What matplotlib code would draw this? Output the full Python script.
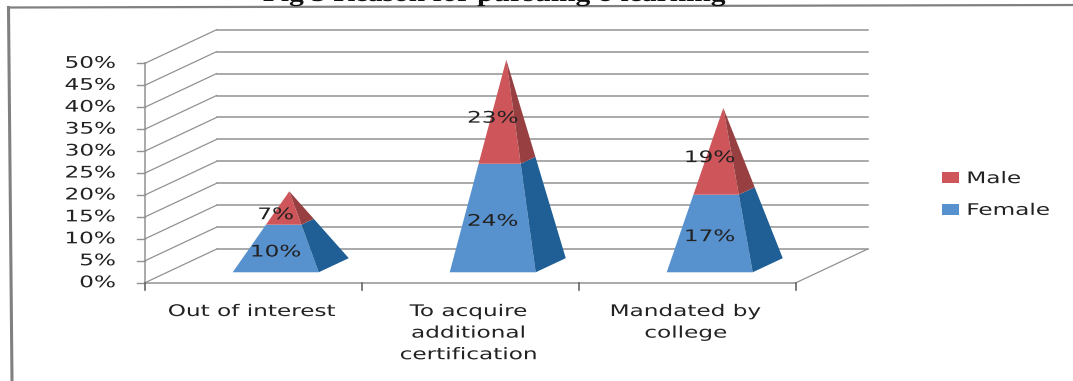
import matplotlib
matplotlib.use("Agg")
import matplotlib.pyplot as plt
from matplotlib.patches import Patch, Polygon
from matplotlib.patheffects import AbstractPathEffect
from matplotlib.transforms import Affine2D

# Survey results, percent of respondents
categories = ["Out of interest", "To acquire\nadditional\ncertification", "Mandated by\ncollege"]
female = [10, 24, 17]
male = [7, 23, 19]
y_ticks = list(range(0, 55, 5))
title = "Fig 5 Reason for pursuing e-learning"

W, H = 1073, 381
X0, UNIT_X = 145.0, 217.0
Y0, UNIT_Y = 282.7, 4.388
DX, DY = 71.6 / UNIT_X, 33.6 / UNIT_Y   # depth vector of the 3-D box
HALF_W = 43.0 / UNIT_X
D_FRONT, D_BACK, D_APEX = 0.31, 0.73, 0.50

FEMALE_FRONT, FEMALE_SIDE = "#5791CE", "#1F5F96"
MALE_FRONT, MALE_SIDE = "#CE5559", "#983F41"
GRID = "#929292"
TEXT = "#222222"
FONT_SIZE = 11.5


class HorizontalStretch(AbstractPathEffect):
    """Widen glyph outlines about a fixed display x, leaving the text height alone."""

    def __init__(self, pivot, factor):
        super().__init__()
        self.pivot = pivot
        self.factor = factor

    def draw_path(self, renderer, gc, tpath, affine, rgbFace=None):
        widen = Affine2D().translate(-self.pivot, 0).scale(self.factor, 1).translate(self.pivot, 0)
        renderer.draw_path(gc, tpath, affine + widen, rgbFace)


fig = plt.figure(figsize=(W / 100, H / 100), dpi=100, facecolor="white")
ax = fig.add_axes([0, 0, 1, 1])
ax.set_xlim(-X0 / UNIT_X, (W - X0) / UNIT_X)
ax.set_ylim((Y0 - H) / UNIT_Y, Y0 / UNIT_Y)
ax.axis("off")
plt.rcParams["font.family"] = "DejaVu Sans"


def px_x(px):
    return (px - X0) / UNIT_X


def px_y(px):
    return (Y0 - px) / UNIT_Y


def proj(x, y, d):
    return (x + d * DX, y + d * DY)


# Scanned frame around the chart
ax.plot([px_x(8.5), px_x(12)], [px_y(7.5), px_y(381)], color="#808080", lw=2.2, clip_on=False)
ax.plot([px_x(8.5), px_x(1073)], [px_y(7.5), px_y(5)], color="#808080", lw=1.6, clip_on=False)

# Walls and floor
n = len(categories)
for t in y_ticks:
    ax.plot(*zip(proj(0, t, 0), proj(0, t, 1)), color=GRID, lw=0.9, zorder=1)
    ax.plot(*zip(proj(0, t, 1), proj(n, t, 1)), color=GRID, lw=1.1, zorder=1)
    ax.plot([-8 / UNIT_X, 0], [t, t], color=GRID, lw=1.0, zorder=1)
    ax.text(-29 / UNIT_X, t, f"{t}%", ha="right", va="center", fontsize=FONT_SIZE, color=TEXT)
ax.plot([0, n], [0, 0], color=GRID, lw=1.1, zorder=1)
ax.plot(*zip(proj(n, 0, 0), proj(n, 0, 1)), color=GRID, lw=0.9, zorder=1)
ax.plot([0, 0], [0, y_ticks[-1]], color=GRID, lw=1.1, zorder=1)
for i in range(n + 1):
    ax.plot([i, i], [0, -7 / UNIT_Y], color="#666666", lw=1.2, zorder=1)

# Stacked pyramids: sections are cut from a single cone of height female + male
for i, (f, m) in enumerate(zip(female, male)):
    cx = i + 0.5
    total = f + m
    fl = proj(cx - HALF_W, 0, D_FRONT)
    fr = proj(cx + HALF_W, 0, D_FRONT)
    br = proj(cx + HALF_W, 0, D_BACK)
    apex = proj(cx, total, D_APEX)

    def lerp(p, t):
        return (p[0] + (apex[0] - p[0]) * t, p[1] + (apex[1] - p[1]) * t)

    cut = f / total
    ml, mr, mb = lerp(fl, cut), lerp(fr, cut), lerp(br, cut)
    ax.add_patch(Polygon([fl, fr, mr, ml], fc=FEMALE_FRONT, ec="none", zorder=3))
    ax.add_patch(Polygon([fr, br, mb, mr], fc=FEMALE_SIDE, ec="none", zorder=3))
    ax.add_patch(Polygon([ml, mr, apex], fc=MALE_FRONT, ec="none", zorder=3))
    ax.add_patch(Polygon([mr, mb, apex], fc=MALE_SIDE, ec="none", zorder=3))

    lx = cx + D_FRONT * DX
    ax.text(lx, f / 2 + 2.0, f"{f}%", ha="center", va="center",
            fontsize=FONT_SIZE, color=TEXT, zorder=4)
    ax.text(lx, f + m / 2 + 2.0, f"{m}%", ha="center", va="center",
            fontsize=FONT_SIZE, color=TEXT, zorder=4)

    ax.text(cx - 1.5 / UNIT_X, px_y(304), categories[i], ha="center", va="top",
            fontsize=FONT_SIZE, color=TEXT, linespacing=1.55)

# Title runs off the top of the page
title_text = ax.text(px_x(495), px_y(1), title, ha="center", va="baseline", fontsize=17,
                     fontfamily="Liberation Serif", fontweight="bold", color="#111111",
                     clip_on=False)

handles = [Patch(fc=MALE_FRONT, label="Male"), Patch(fc=FEMALE_FRONT, label="Female")]
legend = fig.legend(handles=handles, loc="center left", bbox_to_anchor=(927.5 / W, 1 - 194.5 / H),
                    frameon=False, fontsize=FONT_SIZE, labelcolor=TEXT, handlelength=1.06,
                    handleheight=0.69, handletextpad=0.47, labelspacing=1.05, borderpad=0.4)

# The lettering is set wide: stretch every label about its own anchor
fig.canvas.draw()
renderer = fig.canvas.get_renderer()
for txt in ax.texts + legend.get_texts():
    box = txt.get_window_extent(renderer)
    anchor = {"left": box.x0, "center": (box.x0 + box.x1) / 2, "right": box.x1}[txt.get_ha()]
    factor = 1.25 if txt is title_text else 1.45
    txt.set_path_effects([HorizontalStretch(anchor, factor)])

fig.savefig("out.png", dpi=100, facecolor="white")
